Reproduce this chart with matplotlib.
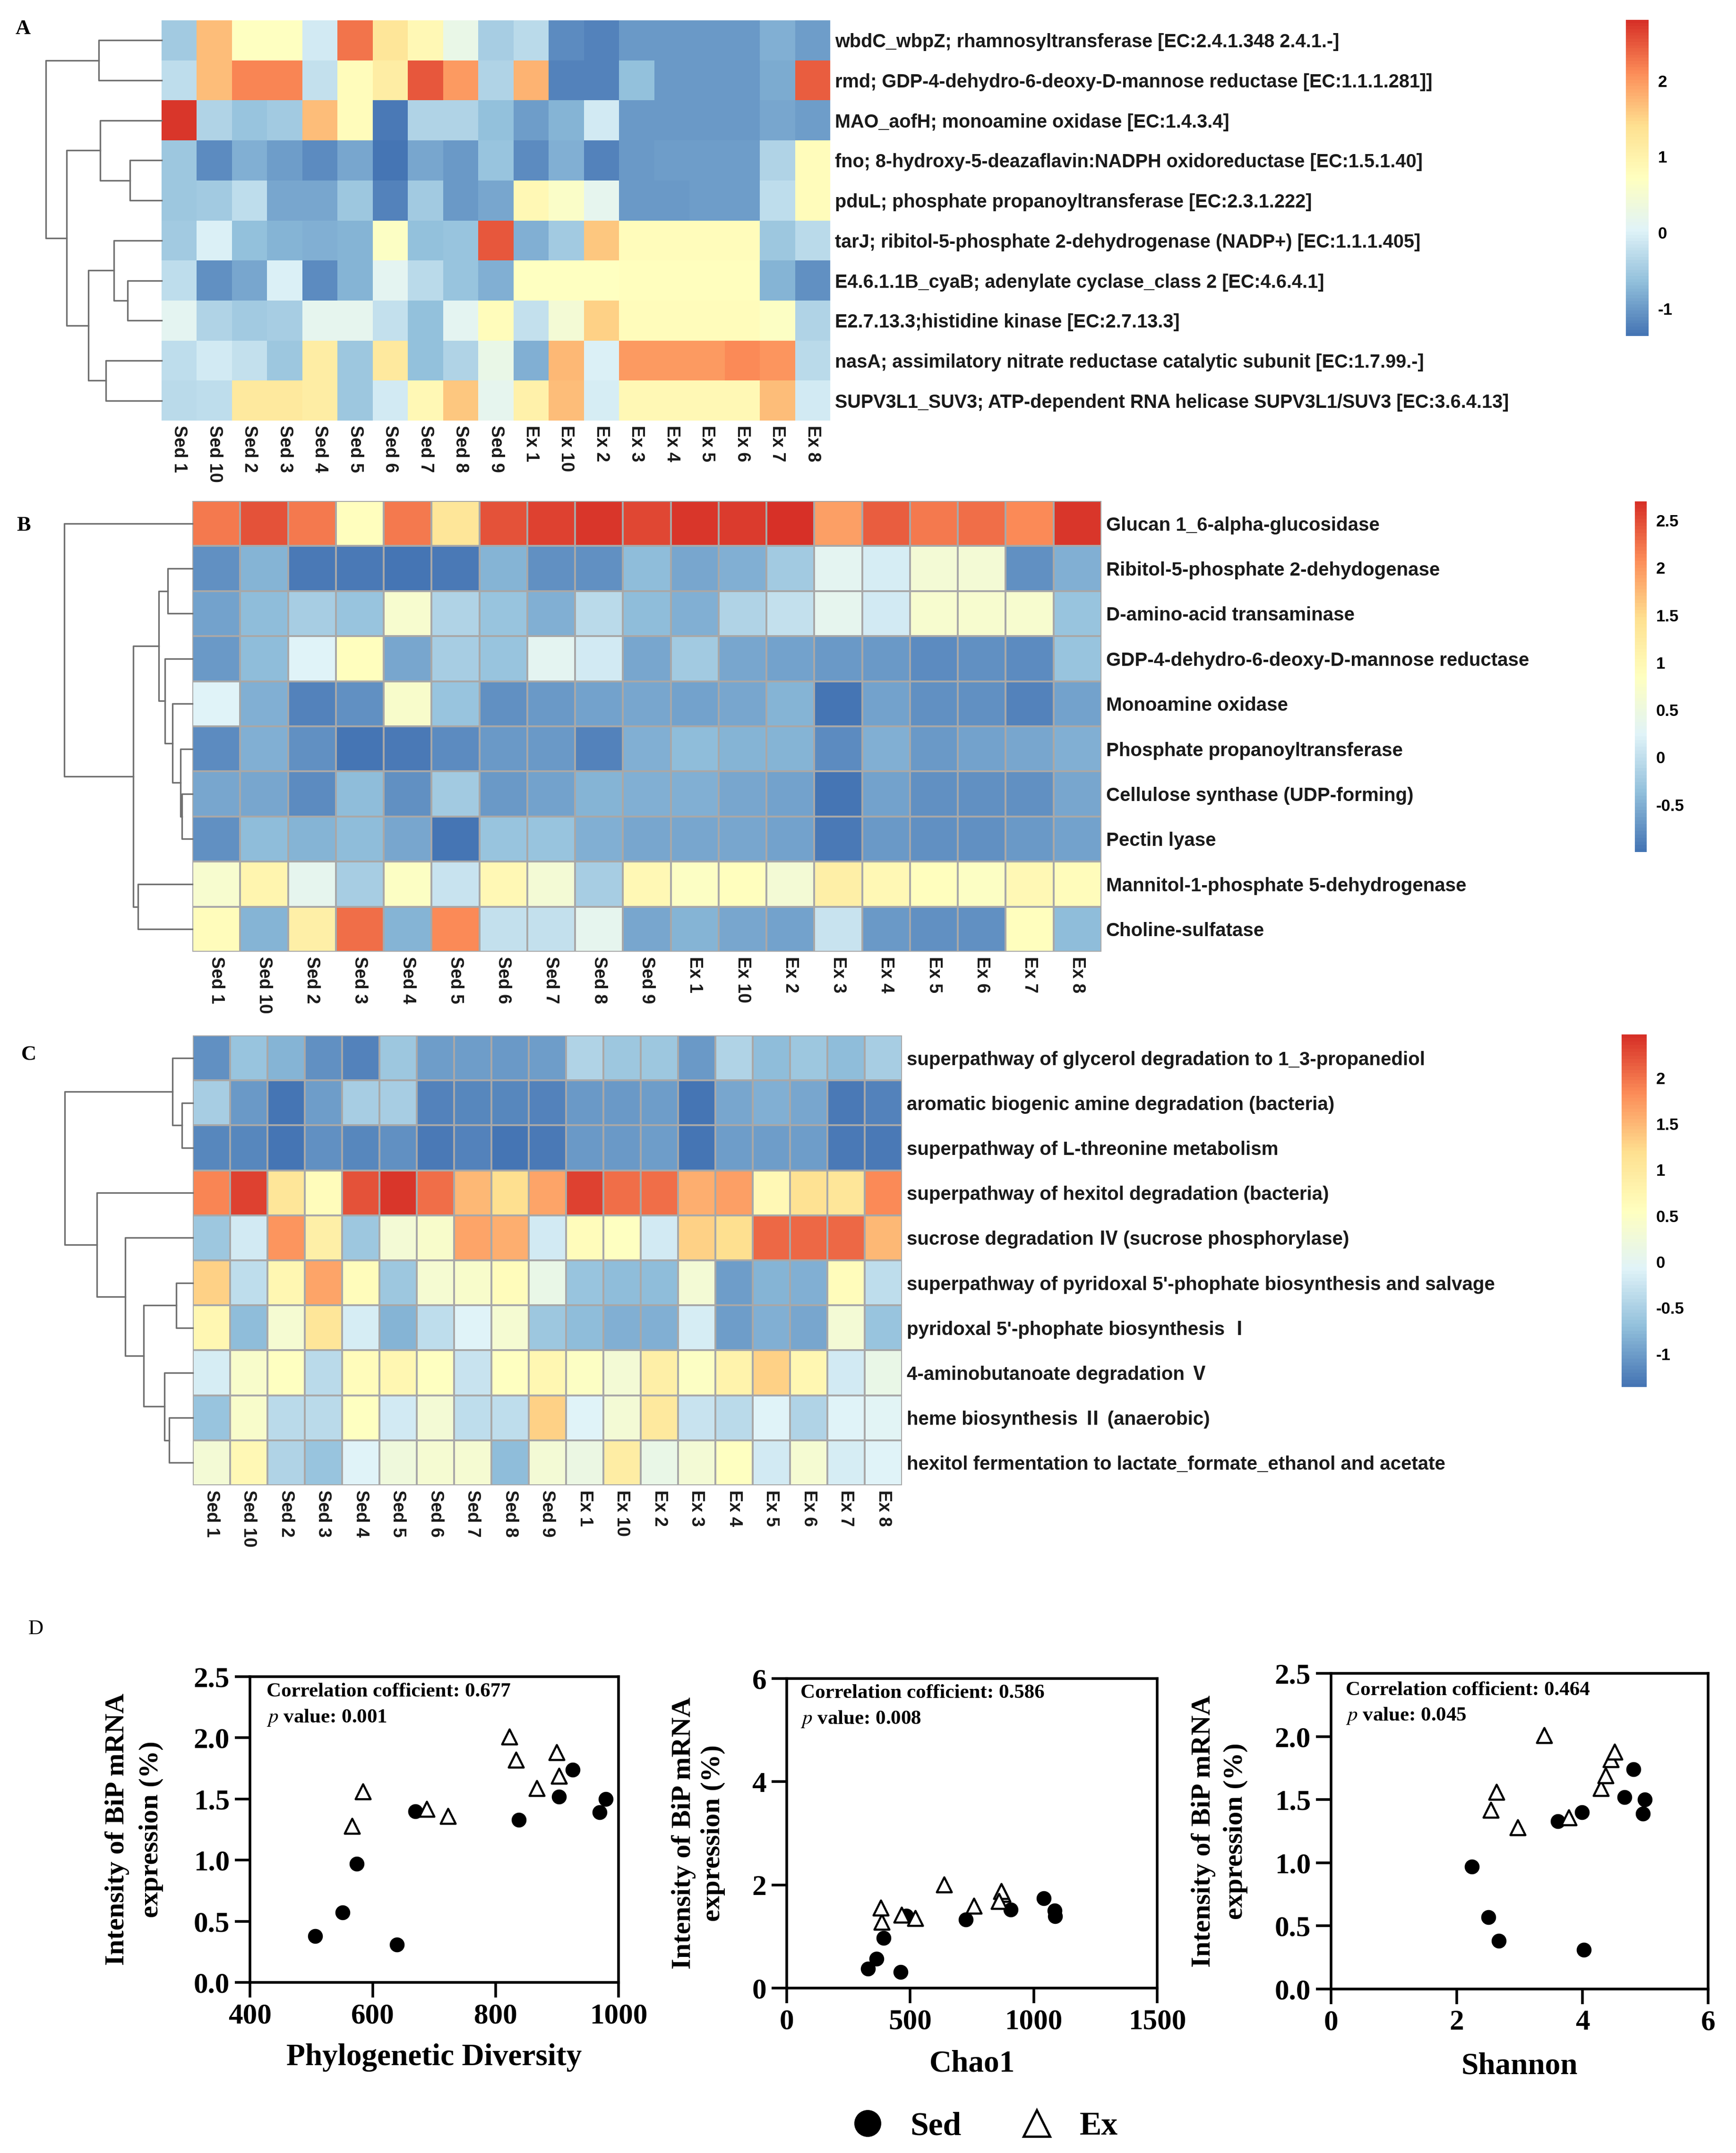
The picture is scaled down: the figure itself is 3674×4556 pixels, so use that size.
import numpy as np
import matplotlib
matplotlib.use("Agg")
import matplotlib.pyplot as plt
from matplotlib.colors import LinearSegmentedColormap
from matplotlib.lines import Line2D

plt.rcParams['mathtext.fontset'] = 'stix'

# ---------------- data ----------------
samples = ["Sed 1", "Sed 10", "Sed 2", "Sed 3", "Sed 4", "Sed 5", "Sed 6", "Sed 7", "Sed 8", "Sed 9",
           "Ex 1", "Ex 10", "Ex 2", "Ex 3", "Ex 4", "Ex 5", "Ex 6", "Ex 7", "Ex 8"]

a_rows = ["wbdC_wbpZ; rhamnosyltransferase [EC:2.4.1.348 2.4.1.-]",
          "rmd; GDP-4-dehydro-6-deoxy-D-mannose reductase [EC:1.1.1.281]]",
          "MAO_aofH; monoamine oxidase [EC:1.4.3.4]",
          "fno; 8-hydroxy-5-deazaflavin:NADPH oxidoreductase [EC:1.5.1.40]",
          "pduL; phosphate propanoyltransferase [EC:2.3.1.222]",
          "tarJ; ribitol-5-phosphate 2-dehydrogenase (NADP+) [EC:1.1.1.405]",
          "E4.6.1.1B_cyaB; adenylate cyclase_class 2 [EC:4.6.4.1]",
          "E2.7.13.3;histidine kinase [EC:2.7.13.3]",
          "nasA; assimilatory nitrate reductase catalytic subunit [EC:1.7.99.-]",
          "SUPV3L1_SUV3; ATP-dependent RNA helicase SUPV3L1/SUV3 [EC:3.6.4.13]"]
a_vals = [
    [-0.5, 1.7, 0.7, 0.7, -0.1, 2.3, 1.3, 0.85, 0.25, -0.45, -0.3, -1.15, -1.2, -1.0, -1.0, -1.0, -1.0, -0.8, -0.95],
    [-0.25, 1.7, 2.15, 2.15, -0.2, 0.8, 1.1, 2.5, 2.0, -0.4, 1.8, -1.2, -1.2, -0.65, -1.0, -1.0, -1.0, -0.85, 2.45],
    [2.75, -0.4, -0.6, -0.5, 1.7, 0.8, -1.3, -0.4, -0.4, -0.65, -0.95, -0.75, -0.1, -1.0, -1.0, -1.0, -1.0, -0.9, -0.95],
    [-0.55, -1.15, -0.8, -0.95, -1.15, -0.9, -1.36, -0.9, -1.0, -0.6, -1.15, -0.8, -1.2, -1.0, -0.95, -0.95, -0.95, -0.4, 0.8],
    [-0.55, -0.5, -0.25, -0.9, -0.9, -0.55, -1.2, -0.5, -1.0, -0.9, 0.85, 0.6, 0.15, -1.0, -1.0, -0.95, -0.95, -0.25, 0.8],
    [-0.5, 0.0, -0.65, -0.75, -0.8, -0.75, 0.65, -0.65, -0.6, 2.5, -0.8, -0.5, 1.6, 0.8, 0.8, 0.8, 0.8, -0.55, -0.3],
    [-0.25, -1.1, -0.9, 0.0, -1.15, -0.75, 0.1, -0.3, -0.6, -0.8, 0.7, 0.7, 0.7, 0.75, 0.75, 0.75, 0.75, -0.75, -1.1],
    [0.1, -0.4, -0.5, -0.45, 0.15, 0.15, -0.2, -0.65, 0.1, 0.8, -0.2, 0.45, 1.55, 0.8, 0.8, 0.8, 0.8, 0.65, -0.4],
    [-0.25, -0.1, -0.2, -0.55, 1.1, -0.55, 1.2, -0.65, -0.4, 0.25, -0.8, 1.75, 0.0, 2.0, 2.0, 2.0, 2.1, 2.05, -0.3],
    [-0.3, -0.25, 1.2, 1.2, 1.1, -0.55, -0.1, 0.85, 1.6, 0.15, 1.05, 1.7, -0.05, 0.85, 0.85, 0.85, 0.85, 1.7, -0.1],
]
# dendrogram: (left, right, merge height)
a_tree = ((0, 1, 133), ((2, (3, 4, 67), 130), ((5, (6, 7, 72), 101), (8, 9, 118), 155), 201), 245)

b_rows = ["Glucan 1_6-alpha-glucosidase", "Ribitol-5-phosphate 2-dehydogenase", "D-amino-acid transaminase",
          "GDP-4-dehydro-6-deoxy-D-mannose reductase", "Monoamine oxidase", "Phosphate propanoyltransferase",
          "Cellulose synthase (UDP-forming)", "Pectin lyase", "Mannitol-1-phosphate 5-dehydrogenase",
          "Choline-sulfatase"]
b_vals = [
    [2.2, 2.45, 2.2, 0.85, 2.2, 1.35, 2.45, 2.58, 2.63, 2.52, 2.63, 2.6, 2.7, 1.95, 2.4, 2.2, 2.27, 2.08, 2.63],
    [-0.75, -0.45, -0.94, -0.94, -1.0, -0.94, -0.45, -0.75, -0.75, -0.38, -0.57, -0.5, -0.26, 0.3, 0.17, 0.6, 0.6, -0.75, -0.5],
    [-0.63, -0.38, -0.2, -0.32, 0.67, -0.14, -0.32, -0.5, -0.07, -0.38, -0.5, -0.14, 0.0, 0.36, 0.11, 0.67, 0.67, 0.67, -0.32],
    [-0.69, -0.38, 0.23, 0.85, -0.57, -0.2, -0.32, 0.3, 0.11, -0.57, -0.26, -0.57, -0.63, -0.69, -0.69, -0.81, -0.75, -0.81, -0.32],
    [0.23, -0.5, -0.88, -0.75, 0.73, -0.32, -0.75, -0.69, -0.63, -0.57, -0.63, -0.57, -0.45, -1.0, -0.63, -0.75, -0.75, -0.88, -0.63],
    [-0.81, -0.5, -0.75, -1.0, -0.94, -0.81, -0.69, -0.69, -0.88, -0.5, -0.38, -0.45, -0.45, -0.81, -0.5, -0.69, -0.63, -0.57, -0.5],
    [-0.57, -0.57, -0.81, -0.38, -0.75, -0.26, -0.69, -0.63, -0.45, -0.5, -0.5, -0.57, -0.63, -1.0, -0.63, -0.75, -0.75, -0.75, -0.57],
    [-0.75, -0.38, -0.45, -0.38, -0.57, -1.0, -0.32, -0.32, -0.5, -0.57, -0.57, -0.57, -0.63, -0.94, -0.69, -0.75, -0.75, -0.69, -0.63],
    [0.67, 1.04, 0.36, -0.2, 0.79, 0.05, 0.97, 0.6, -0.2, 0.97, 0.79, 0.85, 0.6, 1.16, 0.97, 0.85, 0.79, 0.97, 0.91],
    [0.91, -0.45, 1.16, 2.27, -0.45, 2.08, 0.0, 0.0, 0.36, -0.57, -0.45, -0.57, -0.63, 0.05, -0.69, -0.75, -0.75, 0.85, -0.38],
]
b_tree = (0, (((1, 2, 52), (3, (4, (5, (6, 7, 22), 25), 42), 58), 71), (8, 9, 115), 125), 271)

c_rows = ["superpathway of glycerol degradation to 1_3-propanediol",
          "aromatic biogenic amine degradation (bacteria)",
          "superpathway of L-threonine metabolism",
          "superpathway of hexitol degradation (bacteria)",
          "sucrose degradation \u2163 (sucrose phosphorylase)",
          "superpathway of pyridoxal 5'-phophate biosynthesis and salvage",
          "pyridoxal 5'-phophate biosynthesis \u2160",
          "4-aminobutanoate degradation \u2164",
          "heme biosynthesis \u2161 (anaerobic)",
          "hexitol fermentation to lactate_formate_ethanol and acetate"]
c_vals = [
    [-1.1, -0.66, -0.79, -1.1, -1.23, -0.6, -0.98, -0.98, -1.04, -0.98, -0.47, -0.6, -0.6, -1.04, -0.47, -0.72, -0.6, -0.72, -0.53],
    [-0.53, -1.04, -1.36, -0.98, -0.53, -0.53, -1.23, -1.17, -1.17, -1.23, -1.04, -1.04, -0.98, -1.36, -0.91, -0.85, -0.91, -1.3, -1.23],
    [-1.17, -1.17, -1.36, -1.1, -1.17, -1.1, -1.3, -1.23, -1.36, -1.3, -1.04, -1.04, -0.98, -1.36, -0.98, -0.98, -0.98, -1.3, -1.3],
    [1.89, 2.34, 1.06, 0.62, 2.21, 2.4, 2.02, 1.51, 1.19, 1.64, 2.34, 2.02, 2.02, 1.57, 1.7, 0.68, 1.13, 1.06, 1.83],
    [-0.6, -0.21, 1.77, 0.87, -0.6, 0.3, 0.43, 1.64, 1.57, -0.21, 0.62, 0.55, -0.21, 1.32, 1.19, 2.08, 2.08, 2.08, 1.51],
    [1.32, -0.34, 0.74, 1.64, 0.62, -0.6, 0.36, 0.43, 0.62, 0.11, -0.66, -0.72, -0.72, 0.3, -0.98, -0.79, -0.85, 0.62, -0.34],
    [0.74, -0.72, 0.36, 1.06, -0.15, -0.79, -0.34, -0.08, 0.36, -0.6, -0.72, -0.85, -0.85, -0.15, -0.98, -0.85, -0.91, 0.3, -0.66],
    [-0.15, 0.43, 0.55, -0.4, 0.62, 0.74, 0.55, -0.27, 0.55, 0.74, 0.49, 0.3, 0.87, 0.49, 0.81, 1.32, 0.74, -0.21, 0.11],
    [-0.66, 0.43, -0.4, -0.4, 0.55, -0.21, 0.3, -0.34, -0.34, 1.32, -0.08, 0.3, 1.0, -0.27, -0.4, -0.08, -0.47, -0.08, -0.02],
    [0.3, 0.68, -0.47, -0.66, -0.08, 0.24, 0.36, 0.36, -0.72, 0.3, 0.17, 0.93, 0.11, 0.3, 0.55, -0.21, 0.36, -0.15, -0.08],
]
c_tree = ((0, (1, 2, 23), 43), (3, (4, ((5, 6, 35), (7, (8, 9, 50), 60), 104), 143), 203), 271)

# panel D: BiP expression vs diversity indices
bip_sed = [0.38, 0.57, 0.97, 0.31, 1.40, 1.33, 1.52, 1.74, 1.39, 1.50]
pd_sed = [506, 551, 574, 639, 669, 838, 903, 925, 969, 979]
chao_sed = [329, 363, 392, 461, 485, 726, 907, 1040, 1087, 1084]
shannon_sed = [2.67, 2.50, 2.24, 4.02, 3.99, 3.61, 4.67, 4.81, 4.96, 4.99]
bip_ex = [1.28, 1.56, 1.42, 1.36, 2.01, 1.82, 1.59, 1.88, 1.69]
pd_ex = [566, 584, 688, 722, 822, 833, 867, 899, 903]
chao_ex = [385, 380, 465, 521, 638, 874, 758, 868, 860]
shannon_ex = [2.97, 2.63, 2.54, 3.78, 3.39, 4.45, 4.29, 4.51, 4.37]

# ---------------- figure ----------------
W, H = 3674, 4556
fig = plt.figure(figsize=(W / 100, H / 100), dpi=100)
fig.patch.set_facecolor('white')

cmap = LinearSegmentedColormap.from_list(
    'pheat', ["#4575B4", "#91BFDB", "#E0F3F8", "#FFFFBF", "#FEE090", "#FC8D59", "#D73027"], N=100)
SANS = ['Liberation Sans', 'Noto Sans CJK SC', 'DejaVu Sans']
SERIF = 'Liberation Serif'


def box(x0, y0, x1, y1):
    return fig.add_axes([x0 / W, 1 - y1 / H, (x1 - x0) / W, (y1 - y0) / H])


def draw_tree(ax, node):
    if isinstance(node, int):
        return node + 0.5, 0
    left, right, h = node
    yl, hl = draw_tree(ax, left)
    yr, hr = draw_tree(ax, right)
    ax.plot([hl, h, h, hr], [yl, yl, yr, yr], color='#707070', lw=2.4, clip_on=False)
    return (yl + yr) / 2, h


def heatmap(vals, rows, tree, hm, cb, vmin, vmax, ticks, row_fs, grid):
    ax = box(*hm)
    mesh = ax.pcolormesh(np.array(vals), cmap=cmap, vmin=vmin, vmax=vmax,
                         edgecolors='#a8a8a8' if grid else 'face', linewidth=1.6 if grid else 0)
    ax.set_xlim(0, 19)
    ax.set_ylim(10, 0)
    for s in ax.spines.values():
        s.set_visible(False)
    ax.yaxis.tick_right()
    ax.set_yticks(np.arange(10) + 0.5)
    ax.set_yticklabels(rows, fontsize=row_fs, fontweight='bold', family=SANS, color='#1a1a1a')
    ax.set_xticks(np.arange(19) + 0.5)
    ax.set_xticklabels(samples, rotation=-90, fontsize=27, fontweight='bold', family=SANS,
                       color='#1a1a1a', va='top', ha='center')
    ax.tick_params(axis='both', length=0)
    ax.tick_params(axis='y', pad=7)
    ax.tick_params(axis='x', pad=7)

    dax = box(hm[0] - tree[2], hm[1], hm[0], hm[3])
    draw_tree(dax, tree)
    dax.set_xlim(tree[2], 0)
    dax.set_ylim(10, 0)
    dax.axis('off')

    cax = box(*cb)
    bar = fig.colorbar(mesh, cax=cax)
    bar.outline.set_visible(False)
    bar.set_ticks(ticks)
    bar.set_ticklabels([('%g' % t).replace('\u2212', '-') for t in ticks])
    cax.tick_params(length=0, labelsize=25, pad=14)
    for t in cax.get_yticklabels():
        t.set_fontweight('bold')
        t.set_family(SANS)


heatmap(a_vals, a_rows, a_tree, (342, 43, 1757, 890), (3441, 42, 3489, 711),
        -1.36, 2.8, [-1, 0, 1, 2], 28.5, False)
heatmap(b_vals, b_rows, b_tree, (407, 1060, 2331, 2014), (3460, 1061, 3485, 1803),
        -1.0, 2.7, [-0.5, 0, 0.5, 1, 1.5, 2, 2.5], 29, True)
heatmap(c_vals, c_rows, c_tree, (408, 2191, 1909, 3143), (3432, 2189, 3485, 2935),
        -1.36, 2.47, [-1, -0.5, 0, 0.5, 1, 1.5, 2], 29, True)

for letter, x, y in [('A', 49, 61), ('B', 50, 1112), ('C', 61, 2232), ('D', 76, 3447)]:
    fig.text(x / W, 1 - y / H, letter, fontsize=32, family=SERIF, ha='center', va='center',
             fontweight='bold' if letter != 'D' else 'normal')


def scatter(pos, xs, xe, xlim, xticks, ylim, yticks, yfmt, xlabel, r, p, ylab_x, ylab_sp, txt_x, txt_y):
    ax = box(*pos)
    ax.scatter(xs, bip_sed, s=470, marker='o', color='black', zorder=3, clip_on=False)
    ax.scatter(xe, bip_ex, s=520, marker='^', facecolors='white', edgecolors='black',
               linewidths=3.2, zorder=4, clip_on=False)
    ax.set_xlim(*xlim)
    ax.set_ylim(*ylim)
    ax.set_xticks(xticks)
    ax.set_xticklabels([str(t) for t in xticks])
    ax.set_yticks(yticks)
    ax.set_yticklabels([yfmt % t for t in yticks])
    for s in ax.spines.values():
        s.set_linewidth(4)
    ax.tick_params(direction='out', length=23, width=4, labelsize=44, pad=8)
    for t in ax.get_xticklabels() + ax.get_yticklabels():
        t.set_family(SERIF)
        t.set_fontweight('bold')
    ax.set_xlabel(xlabel, fontsize=47, family=SERIF, fontweight='bold', va='center')
    ax.xaxis.set_label_coords(0.5, -0.245)
    ax.set_ylabel('Intensity of BiP mRNA\nexpression (%)', fontsize=42, family=SERIF,
                  fontweight='bold', va='center', linespacing=ylab_sp)
    ax.yaxis.set_label_coords(ylab_x, 0.5)
    ax.text(txt_x, txt_y[0], 'Correlation cofficient: ' + r, transform=ax.transAxes,
            fontsize=31, family=SERIF, fontweight='bold', va='center', ha='left')
    ax.text(txt_x, txt_y[1], r'$\mathit{p}$ value: ' + p, transform=ax.transAxes,
            fontsize=31, family=SERIF, fontweight='bold', va='center', ha='left')


scatter((529, 3548, 1309, 4195), pd_sed, pd_ex, (400, 1000), [400, 600, 800, 1000],
        (0, 2.5), [0.0, 0.5, 1.0, 1.5, 2.0, 2.5], '%.1f', 'Phylogenetic Diversity',
        '0.677', '0.001', -0.314, 1.5, 0.045, (0.951, 0.866))
scatter((1665, 3552, 2449, 4207), chao_sed, chao_ex, (0, 1500), [0, 500, 1000, 1500],
        (0, 6), [0, 2, 4, 6], '%d', 'Chao1',
        '0.586', '0.008', -0.239, 1.25, 0.037, (0.953, 0.869))
scatter((2817, 3541, 3615, 4209), shannon_sed, shannon_ex, (0, 6), [0, 2, 4, 6],
        (0, 2.5), [0.0, 0.5, 1.0, 1.5, 2.0, 2.5], '%.1f', 'Shannon',
        '0.464', '0.045', -0.296, 1.4, 0.039, (0.946, 0.865))

handles = [Line2D([], [], marker='o', color='black', linestyle='none', markersize=40),
           Line2D([], [], marker='^', markerfacecolor='white', markeredgecolor='black',
                  markeredgewidth=3.5, linestyle='none', markersize=40)]
fig.legend(handles, ['Sed', 'Ex'], loc='center', bbox_to_anchor=(2066 / W, 1 - 4500 / H), ncol=2,
           frameon=False, prop=dict(family=SERIF, weight='bold', size=50),
           columnspacing=1.3, handletextpad=0.3)

fig.savefig('out.png', dpi=100, facecolor='white')
